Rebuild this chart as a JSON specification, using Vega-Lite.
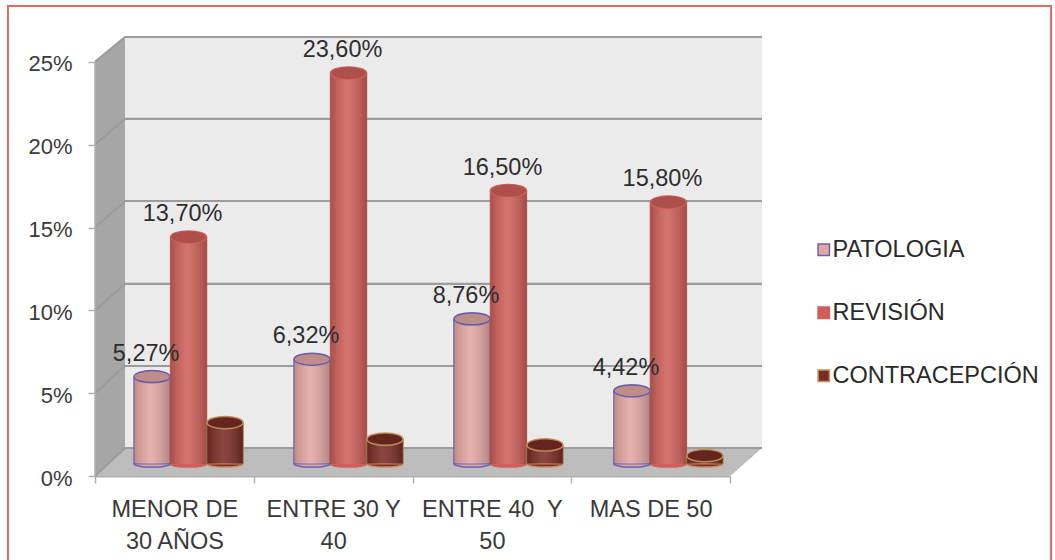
{
  "$schema": "https://vega.github.io/schema/vega-lite/v6.json",
  "width": 667,
  "height": 439,
  "autosize": "none",
  "padding": {"left": 95, "top": 37, "right": 293, "bottom": 84},
  "background": "#ffffff",
  "config": {
    "view": {"stroke": null},
    "font": "Liberation Sans",
    "axis": {"labelFont": "Liberation Sans", "labelFontSize": 23.5, "labelColor": "#3a3a3a", "title": null},
    "legend": {"labelFont": "Liberation Sans", "labelFontSize": 23.5, "labelColor": "#2a2a2a"}
  },
  "datasets": {
    "marco": [{"x0": -0.548, "x1": 6.02, "y0": -5.7, "y1": 28.37}],
    "pared": [{"x0": 0.189, "x1": 4.2, "y0": 1.69, "y1": 26.5}],
    "lateral": [
      {"x": 0, "y0": 0, "y1": 25},
      {"x": 0.189, "y0": 1.69, "y1": 26.5}
    ],
    "suelo": [
      {"y": 0, "x0": 0, "x1": 4},
      {"y": 1.69, "x0": 0.189, "x1": 4.2}
    ],
    "rejilla": [
      {"nivel": 0, "x": 0, "y": 0}, {"nivel": 0, "x": 0.189, "y": 1.69}, {"nivel": 0, "x": 4.2, "y": 1.69},
      {"nivel": 5, "x": 0, "y": 5}, {"nivel": 5, "x": 0.189, "y": 6.64}, {"nivel": 5, "x": 4.2, "y": 6.64},
      {"nivel": 10, "x": 0, "y": 10}, {"nivel": 10, "x": 0.189, "y": 11.6}, {"nivel": 10, "x": 4.2, "y": 11.6},
      {"nivel": 15, "x": 0, "y": 15}, {"nivel": 15, "x": 0.189, "y": 16.6}, {"nivel": 15, "x": 4.2, "y": 16.6},
      {"nivel": 20, "x": 0, "y": 20}, {"nivel": 20, "x": 0.189, "y": 21.56}, {"nivel": 20, "x": 4.2, "y": 21.56},
      {"nivel": 25, "x": 0, "y": 25}, {"nivel": 25, "x": 0.189, "y": 26.5}, {"nivel": 25, "x": 4.2, "y": 26.5}
    ],
    "barras": [
      {"edad": "MENOR DE\n30 AÑOS", "motivo": "PATOLOGIA", "valor": 5.27, "etiqueta": "5,27%"},
      {"edad": "MENOR DE\n30 AÑOS", "motivo": "REVISIÓN", "valor": 13.7, "etiqueta": "13,70%"},
      {"edad": "MENOR DE\n30 AÑOS", "motivo": "CONTRACEPCIÓN", "valor": 2.5, "etiqueta": ""},
      {"edad": "ENTRE 30 Y\n40", "motivo": "PATOLOGIA", "valor": 6.32, "etiqueta": "6,32%"},
      {"edad": "ENTRE 30 Y\n40", "motivo": "REVISIÓN", "valor": 23.6, "etiqueta": "23,60%"},
      {"edad": "ENTRE 30 Y\n40", "motivo": "CONTRACEPCIÓN", "valor": 1.5, "etiqueta": ""},
      {"edad": "ENTRE 40\u00a0 Y\n50", "motivo": "PATOLOGIA", "valor": 8.76, "etiqueta": "8,76%"},
      {"edad": "ENTRE 40\u00a0 Y\n50", "motivo": "REVISIÓN", "valor": 16.5, "etiqueta": "16,50%"},
      {"edad": "ENTRE 40\u00a0 Y\n50", "motivo": "CONTRACEPCIÓN", "valor": 1.15, "etiqueta": ""},
      {"edad": "MAS DE 50", "motivo": "PATOLOGIA", "valor": 4.42, "etiqueta": "4,42%"},
      {"edad": "MAS DE 50", "motivo": "REVISIÓN", "valor": 15.8, "etiqueta": "15,80%"},
      {"edad": "MAS DE 50", "motivo": "CONTRACEPCIÓN", "valor": 0.5, "etiqueta": ""}
    ]
  },
  "resolve": {"scale": {"x": "independent", "y": "independent"}, "axis": {"x": "independent", "y": "independent"}},
  "layer": [
    {
      "data": {"name": "marco"},
      "mark": {"type": "rect", "fill": null, "stroke": "#de6a66", "strokeWidth": 2},
      "encoding": {
        "x": {"field": "x0", "type": "quantitative", "scale": {"domain": [0, 4.2]}, "axis": null},
        "x2": {"field": "x1"},
        "y": {"field": "y0", "type": "quantitative", "scale": {"domain": [0, 26.5]}, "axis": null},
        "y2": {"field": "y1"}
      }
    },
    {
      "data": {"name": "pared"},
      "mark": {"type": "rect", "fill": "#ebebeb"},
      "encoding": {
        "x": {"field": "x0", "type": "quantitative", "scale": {"domain": [0, 4.2]}, "axis": null},
        "x2": {"field": "x1"},
        "y": {"field": "y0", "type": "quantitative", "scale": {"domain": [0, 26.5]}, "axis": null},
        "y2": {"field": "y1"}
      }
    },
    {
      "data": {"name": "lateral"},
      "mark": {"type": "area", "fill": "#a6a6a6", "orient": "vertical"},
      "encoding": {
        "x": {"field": "x", "type": "quantitative", "scale": {"domain": [0, 4.2]}, "axis": null},
        "y": {"field": "y0", "type": "quantitative", "scale": {"domain": [0, 26.5]}, "axis": null},
        "y2": {"field": "y1"}
      }
    },
    {
      "data": {"name": "suelo"},
      "mark": {"type": "area", "fill": "#bdbdbd", "orient": "horizontal"},
      "encoding": {
        "y": {"field": "y", "type": "quantitative", "scale": {"domain": [0, 26.5]}, "axis": null},
        "x": {"field": "x0", "type": "quantitative", "scale": {"domain": [0, 4.2]}, "axis": null},
        "x2": {"field": "x1"}
      }
    },
    {
      "data": {"name": "rejilla"},
      "mark": {"type": "line", "stroke": "#9c9c9c", "strokeWidth": 2.2},
      "encoding": {
        "detail": {"field": "nivel"},
        "x": {"field": "x", "type": "quantitative", "scale": {"domain": [0, 4.2]}, "axis": null},
        "y": {"field": "y", "type": "quantitative", "scale": {"domain": [0, 26.5]}, "axis": null},
        "order": {"field": "x"}
      }
    },
    {
      "data": {"name": "lateral"},
      "transform": [{"filter": "datum.x === 0"}],
      "mark": {"type": "rule", "stroke": "#b0b0b0", "strokeWidth": 1.5},
      "encoding": {
        "x": {"field": "x", "type": "quantitative", "scale": {"domain": [0, 4.2]}, "axis": null},
        "y": {
          "field": "y0",
          "type": "quantitative",
          "scale": {"domain": [0, 26.5]},
          "axis": {
            "values": [0, 5, 10, 15, 20, 25],
            "labelExpr": "datum.value + '%'",
            "domain": false,
            "grid": false,
            "tickColor": "#b0b0b0",
            "tickSize": 7,
            "tickWidth": 1.5,
            "labelFontSize": 22,
            "labelOffset": 2,
            "labelPadding": 16
          }
        },
        "y2": {"field": "y1"}
      }
    },
    {
      "data": {"name": "barras"},
      "mark": {"type": "tick", "opacity": 0},
      "encoding": {
        "x": {
          "field": "edad",
          "type": "nominal",
          "sort": null,
          "scale": {"range": [0, 635], "paddingInner": 0, "paddingOuter": 0},
          "axis": {
            "labelAngle": 0,
            "labelExpr": "split(datum.label, '\\n')",
            "labelLineHeight": 32,
            "labelPadding": 14,
            "labelBaseline": "top",
            "tickBand": "extent",
            "tickColor": "#b0b0b0",
            "tickSize": 7,
            "tickWidth": 1.5,
            "domainColor": "#b0b0b0",
            "domainWidth": 2,
            "grid": false
          }
        }
      }
    },
    {
      "data": {"name": "barras"},
      "encoding": {
        "x": {
          "field": "edad",
          "type": "nominal",
          "sort": null,
          "scale": {"range": [16, 651], "paddingInner": 0.316, "paddingOuter": 0.143},
          "axis": null
        },
        "xOffset": {
          "field": "motivo",
          "type": "nominal",
          "scale": {"domain": ["PATOLOGIA", "REVISIÓN", "CONTRACEPCIÓN"], "padding": 0}
        },
        "y": {"field": "valor", "type": "quantitative", "scale": {"domain": [-0.725, 25.775]}, "axis": null}
      },
      "layer": [
        {
          "mark": {"type": "point", "filled": true, "shape": "M-1,0A1,0.17,0,1,1,1,0A1,0.17,0,1,1,-1,0Z", "size": 1300, "opacity": 1, "strokeWidth": 1.5},
          "encoding": {
            "y": {"datum": 0, "type": "quantitative", "scale": {"domain": [-0.725, 25.775]}, "axis": null},
            "fill": {
              "field": "motivo",
              "type": "nominal",
              "scale": {"domain": ["PATOLOGIA", "REVISIÓN", "CONTRACEPCIÓN"], "range": ["#e3a7a4", "#cf5f59", "#7a2b26"]},
              "legend": {
                "title": null,
                "orient": "none",
                "legendX": 717,
                "legendY": 201,
                "symbolType": "square",
                "symbolSize": 130,
                "symbolStrokeWidth": 1.5,
                "rowPadding": 38,
                "labelOffset": -3,
                "labelLimit": 300,
                "values": ["PATOLOGIA", "REVISIÓN", "CONTRACEPCIÓN"]
              }
            },
            "stroke": {
              "field": "motivo",
              "type": "nominal",
              "scale": {"domain": ["PATOLOGIA", "REVISIÓN", "CONTRACEPCIÓN"], "range": ["#6a62b4", "#cf5f59", "#c4925a"]},
              "legend": {
                "title": null,
                "orient": "none",
                "legendX": 717,
                "legendY": 201,
                "symbolType": "square",
                "symbolSize": 130,
                "symbolStrokeWidth": 1.5,
                "rowPadding": 38,
                "labelOffset": -3,
                "labelLimit": 300,
                "values": ["PATOLOGIA", "REVISIÓN", "CONTRACEPCIÓN"]
              }
            }
          }
        },
        {
          "mark": {"type": "bar"},
          "encoding": {
            "fill": {"field": "motivo", "type": "nominal", "legend": null},
            "stroke": {"field": "motivo", "type": "nominal", "legend": null}
          }
        },
        {
          "mark": {
            "type": "bar",
            "stroke": null,
            "fill": {
              "gradient": "linear", "x1": 0, "y1": 0, "x2": 1, "y2": 0,
              "stops": [
                {"offset": 0, "color": "rgba(0,0,0,0.18)"},
                {"offset": 0.45, "color": "rgba(255,255,255,0.12)"},
                {"offset": 1, "color": "rgba(0,0,0,0.22)"}
              ]
            }
          }
        },
        {
          "mark": {"type": "point", "filled": true, "shape": "M-1,0A1,0.34,0,1,1,1,0A1,0.34,0,1,1,-1,0Z", "size": 1300, "opacity": 1, "strokeWidth": 1.5},
          "encoding": {
            "fill": {"field": "motivo", "type": "nominal", "legend": null},
            "stroke": {"field": "motivo", "type": "nominal", "legend": null}
          }
        },
        {
          "mark": {"type": "point", "filled": true, "shape": "M-1,0A1,0.34,0,1,1,1,0A1,0.34,0,1,1,-1,0Z", "size": 1200, "fill": "#000000", "opacity": 0.16, "stroke": null}
        },
        {
          "transform": [{"filter": "datum.etiqueta !== ''"}],
          "mark": {"type": "text", "fontSize": 23.5, "font": "Liberation Sans", "color": "#2e2e2e", "dx": -6, "dy": -23},
          "encoding": {"text": {"field": "etiqueta", "type": "nominal"}}
        }
      ]
    }
  ]
}
